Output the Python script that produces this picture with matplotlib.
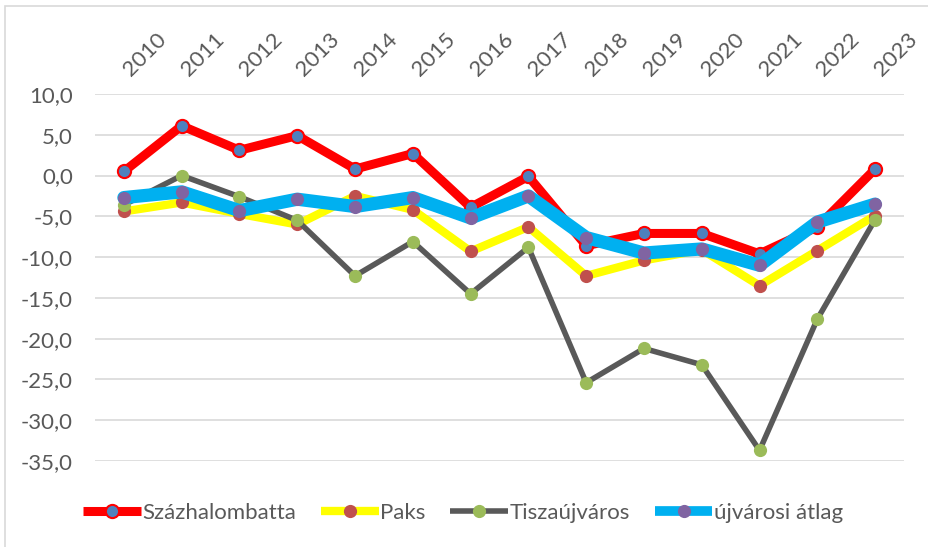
import matplotlib
matplotlib.use("Agg")
import matplotlib.pyplot as plt
import matplotlib.transforms as mtransforms
from matplotlib.lines import Line2D
from matplotlib.patches import Rectangle
from matplotlib.ticker import FuncFormatter

years = ["2010", "2011", "2012", "2013", "2014", "2015", "2016",
         "2017", "2018", "2019", "2020", "2021", "2022", "2023"]
szazhalombatta = [0.5, 6.1, 3.1, 4.9, 0.8, 2.7, -3.9, -0.1, -8.6, -7.1, -7.1, -9.6, -6.3, 0.8]
paks = [-4.4, -3.3, -4.7, -6.0, -2.5, -4.2, -9.3, -6.3, -12.3, -10.4, -9.1, -13.5, -9.2, -4.9]
tiszaujvaros = [-3.6, 0.0, -2.6, -5.5, -12.3, -8.1, -14.5, -8.8, -25.4, -21.2, -23.2, -33.7, -17.6, -5.4]
ujvarosi_atlag = [-2.7, -2.0, -4.3, -2.9, -3.8, -2.7, -5.2, -2.5, -7.6, -9.5, -9.0, -11.0, -5.7, -3.5]
series_names = ["Százhalombatta", "Paks", "Tiszaújváros", "újvárosi átlag"]

plt.rcParams['font.family'] = ['Lato', 'DejaVu Sans']
W, H = 929, 547
fig = plt.figure(figsize=(W / 100, H / 100), dpi=100)
fig.patch.set_facecolor("white")
fig.patches.append(Rectangle((5 / W, -0.1), 1.2, 1 - 6 / H + 0.1, transform=fig.transFigure,
                             fill=False, edgecolor="#D9D9D9", linewidth=1.2))

left, right, top, bottom = 95 / W, 904 / W, 1 - 94 / H, 1 - 461 / H
ax = fig.add_axes([left, bottom, right - left, top - bottom])

x = list(range(len(years)))
styles = [
    dict(color="#FF0000", lw=6.5, mfc="#4F81BD", mec="#FF0000", mew=1.5),
    dict(color="#FFFF00", lw=6.0, mfc="#C0504D", mec="#C0504D", mew=0),
    dict(color="#595959", lw=4.0, mfc="#9BBB59", mec="#9BBB59", mew=0),
    dict(color="#00B0F0", lw=9.5, mfc="#8064A2", mec="#8064A2", mew=0),
]
data = [szazhalombatta, paks, tiszaujvaros, ujvarosi_atlag]
handles = []
for i, (vals, st, name) in enumerate(zip(data, styles, series_names)):
    ax.plot(x, vals, color=st["color"], lw=st["lw"], marker="o", ms=9.5,
            mfc=st["mfc"], mec=st["mec"], mew=st["mew"], solid_joinstyle="round",
            solid_capstyle="round", zorder=3 + i, clip_on=False)
    handles.append(Line2D([0], [0], color=st["color"], lw=min(st["lw"], 7), marker="o", ms=9.5,
                          mfc=st["mfc"], mec=st["mec"], mew=st["mew"], solid_capstyle="butt"))

ax.set_xlim(-0.5, len(years) - 0.5)
ax.set_ylim(-35, 10)
ax.set_yticks(range(-35, 11, 5))
ax.yaxis.set_major_formatter(FuncFormatter(lambda v, p: f"{v:.1f}".replace(".", ",")))
ax.grid(axis="y", color="#D9D9D9", lw=1.2, zorder=0)
ax.set_axisbelow(True)
for s in ax.spines.values():
    s.set_visible(False)

ax.xaxis.tick_top()
ax.set_xticks(x)
ax.set_xticklabels(years, rotation=45, ha="left", va="bottom", rotation_mode="anchor")
ax.tick_params(axis="x", length=0, pad=15, labelsize=16, labelcolor="#595959")
ax.tick_params(axis="y", length=0, pad=16, labelsize=16, labelcolor="#595959")
offset = mtransforms.ScaledTranslation(0.10, -0.07, fig.dpi_scale_trans)
for lab in ax.get_xticklabels():
    lab.set_transform(lab.get_transform() + offset)

leg = fig.legend(handles, series_names, loc="center left",
                 bbox_to_anchor=(83 / W, 1 - 513 / H), ncol=4, frameon=False,
                 fontsize=16, labelcolor="#595959", handlelength=2.6,
                 handletextpad=0.08, columnspacing=1.1, borderpad=0, borderaxespad=0)

fig.savefig("out.png", dpi=100)
